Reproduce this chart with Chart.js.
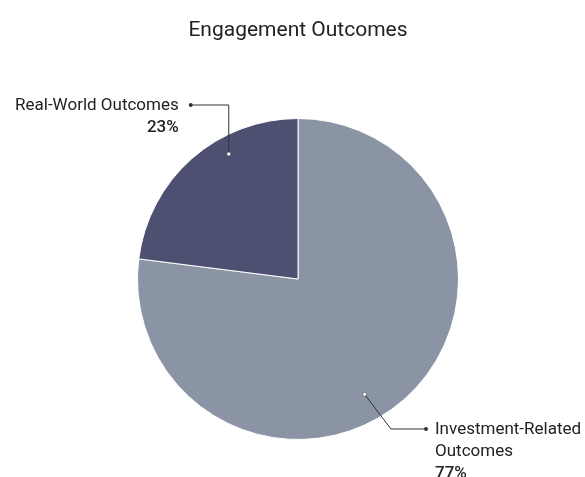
<!DOCTYPE html>
<html><head><meta charset="utf-8">
<script src="https://cdn.jsdelivr.net/npm/chart.js@4"></script>
<style>html,body{margin:0;padding:0;background:#fff}#wrap{width:585px;height:477px}</style>
</head><body><div id="wrap"><canvas id="c" width="585" height="477"></canvas></div>
<script>
const categories = ["Investment-Related Outcomes", "Real-World Outcomes"];
const labelLines = [["Investment-Related", "Outcomes"], ["Real-World Outcomes"]];
const values = [77, 23];
const colors = ["#8a94a4", "#4e5071"];

const leaderCfg = [
  {angle: 150, rf: 0.83, side: 'right', elbowDx: 93, elbowDy: 150, run: 35, gap: 9, lh: 22},
  {angle: 331, rf: 0.89, side: 'left', elbowDx: null, elbowDy: -174, run: 38, gap: 12, lh: 22}
];

const labelPlugin = {
  id: 'leaders',
  afterDatasetsDraw(chart) {
    const ctx = chart.ctx;
    const meta = chart.getDatasetMeta(0);
    const total = values.reduce((a, b) => a + b, 0);
    meta.data.forEach((arc, i) => {
      const cfg = leaderCfg[i];
      const cx = arc.x, cy = arc.y, r = arc.outerRadius;
      const a = cfg.angle * Math.PI / 180;
      const ax = cx + Math.sin(a) * r * cfg.rf;
      const ay = cy - Math.cos(a) * r * cfg.rf;
      const ex = cfg.elbowDx === null ? ax : cx + cfg.elbowDx;
      const ey = cy + cfg.elbowDy;
      const tx = cfg.side === 'right' ? ex + cfg.run : ex - cfg.run;
      ctx.save();
      ctx.strokeStyle = '#333';
      ctx.lineWidth = 1;
      ctx.beginPath();
      ctx.moveTo(ax, ay); ctx.lineTo(ex, ey); ctx.lineTo(tx, ey);
      ctx.stroke();
      ctx.fillStyle = '#333';
      ctx.beginPath(); ctx.arc(tx, ey, 2, 0, Math.PI * 2); ctx.fill();
      ctx.fillStyle = '#fff';
      ctx.beginPath(); ctx.arc(ax, ay, 2, 0, Math.PI * 2); ctx.fill();
      ctx.strokeStyle = '#333'; ctx.lineWidth = 0.5; ctx.stroke();
      const pct = Math.round(values[i] / total * 100) + '%';
      ctx.fillStyle = '#222';
      ctx.textBaseline = 'middle';
      const lines = labelLines[i];
      const lx = cfg.side === 'right' ? tx + cfg.gap : tx - cfg.gap;
      ctx.textAlign = cfg.side === 'right' ? 'left' : 'right';
      ctx.font = '17px Roboto';
      lines.forEach((ln, k) => ctx.fillText(ln, lx, ey + 1 + k * cfg.lh));
      ctx.font = '500 17px Roboto';
      ctx.fillText(pct, lx, ey + 1 + lines.length * cfg.lh);
      ctx.restore();
    });
  }
};

new Chart(document.getElementById('c'), {
  type: 'pie',
  data: {
    labels: categories,
    datasets: [{data: values, backgroundColor: colors, borderColor: '#fff', borderWidth: 1}]
  },
  options: {
    responsive: false,
    animation: false,
    layout: {padding: {left: 40, right: 29, top: 0, bottom: 37}},
    plugins: {
      legend: {display: false},
      tooltip: {enabled: false},
      title: {display: true, text: 'Engagement Outcomes', color: '#222',
        font: {family: 'Roboto', size: 21, weight: 'normal'}, padding: {top: 18, bottom: 74.8}}
    }
  },
  plugins: [labelPlugin]
});
</script></body></html>
